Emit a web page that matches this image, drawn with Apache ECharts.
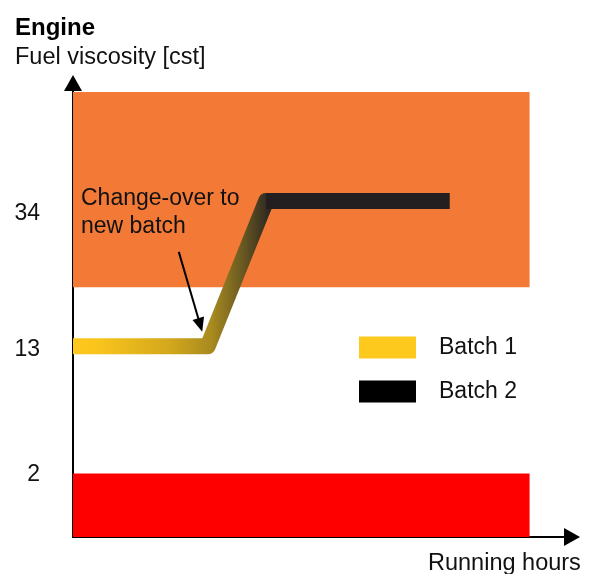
<!DOCTYPE html>
<html>
<head>
<meta charset="utf-8">
<script src="https://cdn.jsdelivr.net/npm/echarts@6/dist/echarts.min.js"></script>
<style>
  html, body { margin: 0; padding: 0; background: #fff; }
  #chart { width: 595px; height: 574px; }
</style>
</head>
<body>
<div id="chart"></div>
<script>
// abstract units: running hours 0..100, viscosity level 0..100 (schematic, not linear)
const batch1Hours = [0, 27, 38.7, 40];
const batch1Level = [42, 42, 74, 74];
const batch2Hours = [38.7, 75.5];
const batch2Level = [74, 74];

const tickLevels = [13.8, 41.3, 71.3];
const tickLabels = ['2', '13', '34'];

// bands: [from, to, colour]
const bandFrom = [0, 55];
const bandTo = [14, 98];
const bandColors = ['#FF0000', '#F37A36'];
const bandEndHours = 91.5;

// annotation arrow (from -> to)
const noteFrom = [21.2, 62.8];
const noteTo = [25.5, 46.7];

const font = 'Liberation Sans';
const chart = echarts.init(document.getElementById('chart'));

const pairs = (xs, ys) => xs.map((x, i) => [x, ys[i]]);
const txt = (size, weight, lh) => ({fontFamily: font, fontSize: size, fontWeight: weight, color: '#111', lineHeight: lh});

chart.setOption({
  animation: false,
  textStyle: {fontFamily: font},
  title: [
    {text: 'Engine', left: 15, top: 15, padding: 0, textStyle: Object.assign(txt(24, 'bold', 26), {color: '#000'})},
    {text: 'Fuel viscosity [cst]', left: 15, top: 45, padding: 0, textStyle: txt(23.5, 'normal', 26)},
    {text: 'Running hours', left: 428, top: 551, padding: 0, textStyle: txt(23.5, 'normal', 26)},
    {text: 'Change-over to\nnew batch', left: 81, top: 185, padding: 0, textStyle: txt(23, 'normal', 28)}
  ],
  legend: {
    orient: 'vertical',
    left: 359,
    top: 336,
    padding: 0,
    itemWidth: 57,
    itemHeight: 22,
    itemGap: 21,
    icon: 'rect',
    selectedMode: false,
    data: [
      {name: 'Batch 1', itemStyle: {color: '#FDC91C'}},
      {name: 'Batch 2', itemStyle: {color: '#000000'}}
    ],
    textStyle: {fontFamily: font, fontSize: 23, color: '#111', lineHeight: 16, padding: [6, 0, 0, 18]}
  },
  grid: {left: 73, right: 23, top: 83, bottom: 37},
  xAxis: {
    type: 'value',
    min: 0,
    max: 100,
    axisLine: {show: true, symbol: ['none', 'triangle'], symbolSize: [18, 16],
      lineStyle: {color: '#000', width: 2}},
    axisTick: {show: false},
    axisLabel: {show: false},
    splitLine: {show: false}
  },
  yAxis: {
    type: 'value',
    min: 0,
    max: 100,
    axisLine: {show: true, symbol: ['none', 'triangle'], symbolSize: [18, 16],
      lineStyle: {color: '#000', width: 2}},
    axisTick: {show: false},
    splitLine: {show: false},
    axisLabel: {
      show: true,
      customValues: tickLevels,
      margin: 33,
      fontFamily: font,
      fontSize: 23,
      color: '#111',
      formatter: (v) => tickLabels[tickLevels.indexOf(v)]
    }
  },
  series: [
    {
      name: 'bands',
      type: 'line',
      data: [],
      z: 1,
      silent: true,
      markArea: {
        silent: true,
        data: bandFrom.map((f, i) => [
          {xAxis: 0, yAxis: f, itemStyle: {color: bandColors[i], opacity: 1}},
          {xAxis: bandEndHours, yAxis: bandTo[i]}
        ])
      }
    },
    {
      name: 'Batch 1',
      type: 'line',
      z: 3,
      symbol: 'none',
      data: pairs(batch1Hours, batch1Level),
      lineStyle: {
        width: 16,
        join: 'round',
        cap: 'butt',
        color: {
          type: 'linear', x: 0, y: 0, x2: 1, y2: 0,
          colorStops: [
            {offset: 0, color: '#FFC91E'},
            {offset: 0.14, color: '#FBC51D'},
            {offset: 0.49, color: '#D2A71C'},
            {offset: 0.68, color: '#A88A1F'},
            {offset: 0.82, color: '#6B5A22'},
            {offset: 0.97, color: '#231F20'},
            {offset: 1, color: '#231F20'}
          ]
        }
      },
      markLine: {
        silent: true,
        symbol: ['none', 'triangle'],
        symbolSize: [12, 14],
        label: {show: false},
        lineStyle: {color: '#000', width: 2, type: 'solid'},
        data: [[{coord: noteFrom}, {coord: noteTo}]]
      }
    },
    {
      name: 'Batch 2',
      type: 'line',
      z: 4,
      symbol: 'none',
      data: pairs(batch2Hours, batch2Level),
      lineStyle: {width: 16, join: 'round', cap: 'butt', color: '#231F20'}
    }
  ]
});
</script>
</body>
</html>
